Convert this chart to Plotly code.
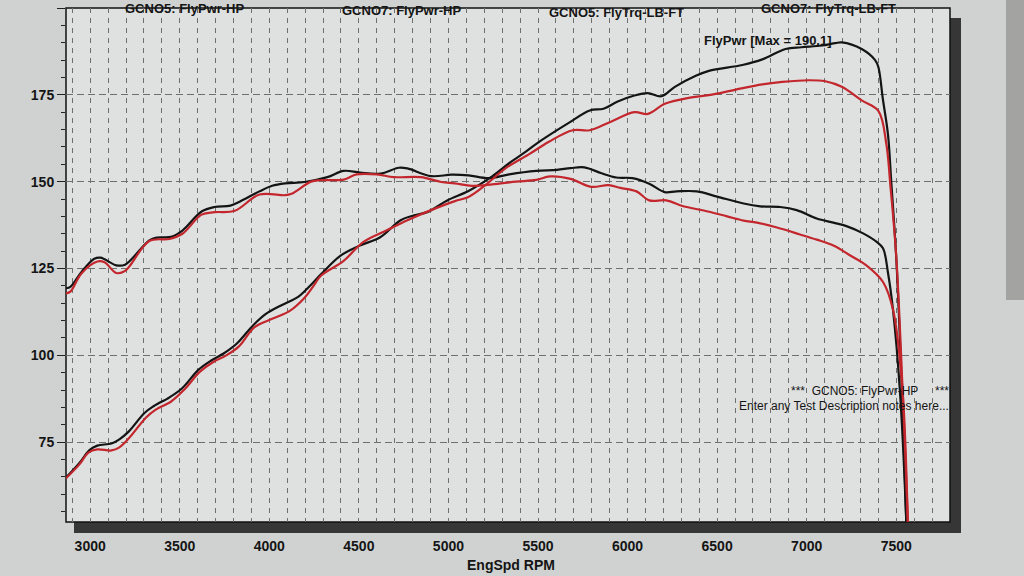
import plotly.graph_objects as go

# ---------------- data read from the dyno sheet ----------------
# GCNO5 (black) power, HP
rpm_pwr5 = [2865, 2940, 2996, 3040, 3119, 3163, 3216, 3303, 3356, 3443, 3515, 3604, 3676,
            3747, 3819, 3909, 3981, 4071, 4161, 4233, 4288, 4398, 4506, 4619, 4733, 4809,
            4885, 4998, 5112, 5244, 5339, 5434, 5510, 5674, 5789, 5866, 5942, 6038, 6113,
            6189, 6264, 6378, 6454, 6641, 6752, 6882, 6970, 7085, 7160, 7196, 7307, 7382,
            7400, 7426, 7454, 7472, 7500, 7530, 7556, 7562]
pwr5 = [64.8, 69.0, 72.7, 74.0, 74.6, 75.8, 78.1, 83.4, 85.4, 87.9, 90.6, 95.8, 98.5,
        100.6, 103.4, 108.6, 111.9, 114.5, 116.8, 120.3, 123.3, 128.7, 131.6, 134.0, 138.9, 140.3,
        141.3, 144.7, 147.3, 151.5, 155.3, 158.7, 161.6, 167.0, 170.5, 171.0, 173.0, 174.8, 175.5,
        174.6, 177.3, 180.4, 181.9, 183.6, 185.2, 188.2, 188.7, 189.2, 189.9, 190.1, 188.2, 185.0,
        183.0, 173.5, 163.5, 150.0, 128.0, 92.0, 52.0, 40.0]

# GCNO7 (red) power, HP
rpm_pwr7 = [2865, 2940, 2990, 3040, 3119, 3163, 3216, 3312, 3364, 3452, 3525, 3613, 3685,
            3757, 3829, 3918, 4016, 4114, 4197, 4251, 4288, 4415, 4524, 4656, 4771, 4903,
            5036, 5112, 5206, 5320, 5453, 5561, 5694, 5789, 5904, 6038, 6113, 6208, 6341,
            6454, 6604, 6752, 6863, 7011, 7104, 7196, 7307, 7400, 7445, 7467, 7500, 7535,
            7565, 7572]
pwr7 = [64.6, 68.6, 72.0, 72.9, 72.6, 73.5, 76.1, 82.1, 84.3, 86.7, 90.1, 95.3, 98.0,
        99.9, 102.5, 108.1, 110.5, 112.8, 116.6, 120.3, 122.9, 127.2, 132.6, 136.0, 138.9, 141.8,
        144.4, 145.6, 149.0, 153.9, 158.0, 161.5, 164.8, 164.8, 167.2, 170.0, 169.5, 172.4, 174.1,
        174.9, 176.5, 178.0, 178.7, 179.2, 178.9, 177.3, 173.4, 170.4, 160.7, 149.0, 128.5, 90.5,
        52.0, 40.0]

# GCNO5 (black) torque, LB-FT
rpm_trq5 = [2865, 2891, 2953, 3023, 3058, 3146, 3195, 3330, 3373, 3452, 3515, 3622, 3694,
            3783, 3837, 3945, 4016, 4089, 4197, 4324, 4415, 4506, 4619, 4723, 4771, 4903,
            5017, 5112, 5225, 5339, 5490, 5606, 5682, 5759, 5855, 5937, 6027, 6121, 6207,
            6273, 6387, 6500, 6648, 6741, 6852, 6944, 7056, 7149, 7222, 7315, 7389, 7426,
            7454, 7482, 7520, 7556, 7562]
trq5 = [119.3, 119.8, 124.1, 127.8, 128.1, 125.9, 126.1, 133.1, 133.9, 134.1, 135.9, 141.4, 142.7,
        143.1, 144.3, 147.2, 148.8, 149.5, 149.9, 151.3, 153.1, 152.6, 152.3, 154.0, 153.8, 151.6,
        152.0, 151.8, 151.0, 152.1, 153.1, 153.4, 153.9, 154.1, 152.4, 151.2, 151.0, 149.4, 147.0,
        147.2, 147.2, 145.7, 143.7, 142.9, 142.7, 141.8, 139.4, 138.2, 137.2, 135.1, 132.7, 130.8,
        123.7, 113.0, 90.0, 52.0, 40.0]

# GCNO7 (red) torque, LB-FT
rpm_trq7 = [2865, 2891, 2950, 3040, 3080, 3146, 3195, 3330, 3443, 3515, 3622, 3694, 3807,
            3945, 4089, 4124, 4233, 4288, 4415, 4487, 4600, 4695, 4846, 4960, 5036, 5131,
            5244, 5377, 5490, 5567, 5682, 5797, 5893, 5960, 6050, 6121, 6216, 6311, 6425,
            6556, 6648, 6722, 6834, 6963, 7056, 7149, 7241, 7333, 7426, 7482, 7535, 7565, 7572]
trq7 = [117.8, 118.4, 123.5, 127.0, 126.8, 123.7, 124.3, 132.9, 133.5, 135.0, 140.5, 141.2, 141.6,
        146.3, 146.1, 146.5, 150.0, 150.4, 150.6, 152.1, 152.1, 151.3, 151.3, 149.9, 149.5, 148.8,
        149.2, 150.0, 150.5, 151.5, 150.8, 148.5, 149.0, 148.2, 147.2, 144.6, 144.6, 142.9, 141.7,
        140.0, 138.8, 138.2, 136.8, 134.8, 133.3, 131.6, 128.8, 125.9, 121.1, 113.1, 90.0, 52.0, 40.0]

x_ticks = [3000, 3500, 4000, 4500, 5000, 5500, 6000, 6500, 7000, 7500]
y_ticks = [75, 100, 125, 150, 175, 200]

# ---------------- styling ----------------
BLACK = "#141414"
RED = "#c3262c"
GRID = "#6e7070"
FONT = "Liberation Sans, Arial, sans-serif"

W, H = 1024, 576
L, R, T, B = 66, 950, 8, 522  # plot area in pixels


def fx(x):
    return (x - L) / (R - L)


def fy(y):
    return (B - y) / (B - T)


fig = go.Figure()
fig.add_trace(go.Scatter(x=rpm_trq5, y=trq5, mode="lines", name="GCNO5: FlyTrq-LB-FT",
                         line=dict(color=BLACK, width=2.2), line_shape="spline"))
fig.add_trace(go.Scatter(x=rpm_pwr5, y=pwr5, mode="lines", name="GCNO5: FlyPwr-HP",
                         line=dict(color=BLACK, width=2.2), line_shape="spline"))
fig.add_trace(go.Scatter(x=rpm_trq7, y=trq7, mode="lines", name="GCNO7: FlyTrq-LB-FT",
                         line=dict(color=RED, width=2.2), line_shape="spline"))
fig.add_trace(go.Scatter(x=rpm_pwr7, y=pwr7, mode="lines", name="GCNO7: FlyPwr-HP",
                         line=dict(color=RED, width=2.2), line_shape="spline"))

shapes = [
    # background beyond the page on the far right
    dict(type="rect", xref="paper", yref="paper", x0=fx(1006), x1=fx(1030), y0=fy(300), y1=fy(-5),
         fillcolor="#a3a4a1", line=dict(width=0), layer="below"),
    # drop shadow of the chart frame
    dict(type="rect", xref="paper", yref="paper", x0=fx(74), x1=fx(961), y0=fy(533), y1=fy(18),
         fillcolor="#363636", line=dict(width=0), layer="below"),
    # chart face
    dict(type="rect", xref="paper", yref="paper", x0=0, x1=1, y0=0, y1=1,
         fillcolor="#dfe1e0", line=dict(color="#111111", width=1.5), layer="below"),
]

ann_font = dict(family=FONT, size=13, color="#151515", weight="bold")
note_font = dict(family=FONT, size=12, color="#151515")
annotations = [
    dict(text="GCNO5: FlyPwr-HP", x=fx(185), y=fy(8)),
    dict(text="GCNO7: FlyPwr-HP", x=fx(402), y=fy(11)),
    dict(text="GCNO5: FlyTrq-LB-FT", x=fx(616), y=fy(13)),
    dict(text="GCNO7: FlyTrq-LB-FT", x=fx(828), y=fy(8)),
    dict(text="FlyPwr [Max = 190.1]", x=fx(768), y=fy(40)),
    dict(text="EngSpd RPM", x=fx(511), y=fy(565), font=dict(family=FONT, size=14, color="#151515", weight="bold")),
    dict(text="***\u00a0\u00a0GCNO5: FlyPwr-HP\u00a0\u00a0\u00a0\u00a0\u00a0***", x=fx(951), y=fy(391),
         xanchor="right", font=note_font),
    dict(text="Enter any Test Description notes here...", x=fx(951), y=fy(406),
         xanchor="right", font=note_font),
]
for a in annotations:
    a.setdefault("xref", "paper")
    a.setdefault("yref", "paper")
    a.setdefault("xanchor", "center")
    a.setdefault("yanchor", "middle")
    a.setdefault("showarrow", False)
    a.setdefault("font", ann_font)

fig.update_layout(
    width=W, height=H,
    margin=dict(l=L, r=W - R, t=T, b=H - B, pad=0),
    paper_bgcolor="#cfd2d1",
    plot_bgcolor="rgba(0,0,0,0)",
    showlegend=False,
    shapes=shapes,
    annotations=annotations,
    font=dict(family=FONT, color="#151515"),
    xaxis=dict(
        range=[2865, 7800], tickvals=x_ticks, ticktext=[str(v) for v in x_ticks],
        showgrid=True, gridcolor=GRID, gridwidth=1, griddash="5px,5px",
        minor=dict(dtick=100, tick0=0, showgrid=True, gridcolor=GRID, gridwidth=1, griddash="5px,5px"),
        showline=False, zeroline=False, ticks="", ticklabelstandoff=14,
        tickfont=dict(family=FONT, size=14, color="#151515", weight="bold"),
    ),
    yaxis=dict(
        range=[52, 200], tickvals=y_ticks, ticktext=[str(v) for v in y_ticks],
        showgrid=True, gridcolor=GRID, gridwidth=1, griddash="7px,4px",
        minor=dict(dtick=5, tick0=0, ticks="outside", ticklen=4, tickcolor="#222", showgrid=False),
        ticks="outside", ticklen=8, tickcolor="#222",
        showline=False, zeroline=False,
        tickfont=dict(family=FONT, size=14, color="#151515", weight="bold"),
    ),
)

fig.write_html("out.html")
